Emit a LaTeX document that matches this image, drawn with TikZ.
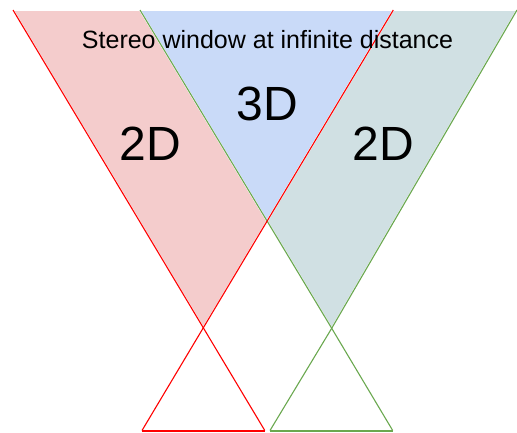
\documentclass[tikz,border=0pt]{standalone}
\usepackage{fontspec}
\setmainfont{Liberation Sans}
\definecolor{leftfill}{HTML}{F4CCCC}
\definecolor{midfill}{HTML}{C9DAF8}
\definecolor{rightfill}{HTML}{D0E0E3}
\definecolor{eyered}{HTML}{FF0000}
\definecolor{eyegreen}{HTML}{6AA84F}

\begin{document}
\begin{tikzpicture}[
  x=1pt,y=-1pt,
  zone/.style={draw=white,line width=1.6pt,line join=round},
  ray/.style={line width=1.1pt},
  floor/.style={line width=2pt},
  big/.style={font=\fontsize{48}{48}\selectfont,anchor=base,inner sep=0pt}
]
  \useasboundingbox (0,0) rectangle (517,432);
  % red eye
  \coordinate (rtl) at (13,10);
  \coordinate (rtr) at (393.3,10);
  \coordinate (rc) at (203.3,327.8);
  \coordinate (rbl) at (142,430.5);
  \coordinate (rbr) at (264.8,430.5);
  % green eye
  \coordinate (gtl) at (140,10);
  \coordinate (gtr) at (517,10);
  \coordinate (gc) at (331.7,328.3);
  \coordinate (gbl) at (270,430.5);
  \coordinate (gbr) at (392.7,430.5);
  \coordinate (xc) at (intersection of gtl--gc and rtr--rc);
  % zones
  \fill[leftfill,zone] (rtl) -- (gtl) -- (xc) -- (rc) -- cycle;
  \fill[midfill,zone] (gtl) -- (rtr) -- (xc) -- cycle;
  \fill[rightfill,zone] (rtr) -- (gtr) -- (gc) -- (xc) -- cycle;
  % rays
  \draw[ray,eyegreen] (gtl) -- (gc) -- (gbr);
  \draw[ray,eyegreen] (gtr) -- (gc) -- (gbl);
  \draw[floor,eyegreen] (gbl) -- (gbr);
  \draw[ray,eyered] (rtl) -- (rc) -- (rbr);
  \draw[ray,eyered] (rtr) -- (rc) -- (rbl);
  \draw[floor,eyered] (rbl) -- (rbr);
  % labels
  \node[anchor=base,inner sep=0pt,font=\fontsize{25}{25}\selectfont] (window) at (267.5,48.5) {Stereo window at infinite distance};
  \node[big] (mid) at (267,120) {3D};
  \node[big] (left) at (150.4,160.7) {2D};
  \node[big] (right) at (383,160.7) {2D};
\end{tikzpicture}
\end{document}
